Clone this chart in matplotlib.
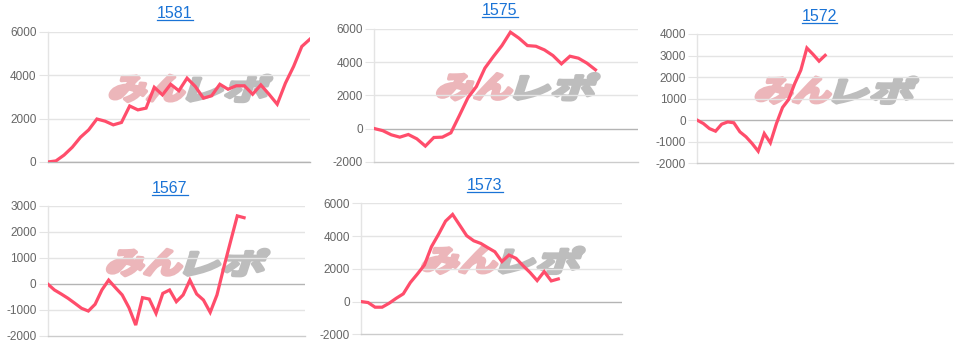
import matplotlib
matplotlib.use("Agg")
import matplotlib.pyplot as plt
from matplotlib.textpath import TextPath
from matplotlib.patches import PathPatch
from matplotlib.font_manager import FontProperties
from matplotlib.lines import Line2D
from matplotlib.transforms import Affine2D

plt.rcParams['font.family'] = ['Liberation Sans', 'DejaVu Sans']

# ---- data ----
titles = ["1581", "1575", "1572", "1567", "1573"]

s1581 = [0, 50, 320, 680, 1140, 1480, 1980, 1880, 1710, 1820, 2580, 2400, 2480,
         3440, 3090, 3580, 3280, 3860, 3480, 2940, 3050, 3580, 3350, 3510, 3510,
         3120, 3550, 3120, 2660, 3630, 4400, 5320, 5660]
s1575 = [0, -130, -380, -520, -360, -620, -1060, -540, -520, -260, 780, 1850,
         2530, 3640, 4340, 5000, 5810, 5450, 5000, 4960, 4740, 4400, 3900, 4360,
         4240, 3940, 3540]
s1572 = [0, -155, -390, -510, -185, -80, -120, -540, -770, -1080, -1440, -620,
         -1050, -155, 590, 960, 1700, 2320, 3350, 3060, 2740, 3010]
s1567 = [0, -230, -385, -550, -740, -935, -1040, -780, -230, 150, -140, -420,
         -910, -1580, -525, -580, -1130, -360, -230, -680, -420, 150, -385, -615,
         -1090, -420, 630, 1630, 2620, 2550]
s1573 = [0, -60, -345, -345, -100, 200, 470, 1160, 1680, 2230, 3350, 4100, 4910,
         5320, 4670, 4020, 3710, 3550, 3290, 3040, 2440, 2840, 2640, 2190, 1770,
         1280, 1830, 1260, 1380]
series = [s1581, s1575, s1572, s1567, s1573]

x_slots = [32, 31, 42, 38, 37]
ylims = [(0, 6000), (-2000, 6000), (-2000, 4000), (-2000, 3000), (-2000, 6000)]
ysteps = [2000, 2000, 1000, 1000, 2000]

# ---- layout (pixels) ----
W, H = 965, 345
# left, right, top, bottom in pixels
boxes = [(47.7, 310, 31.7, 162), (374.3, 638, 29, 161.7), (697.3, 953, 34, 163.3),
         (47.7, 305, 206, 336), (361, 621.7, 203.3, 334.3)]
title_pos = [(174.7, 17.5), (499.8, 15), (819.5, 21), (169.8, 193), (485, 190)]

LINE = '#ff4d6b'
GRID = '#e4e4e4'
ZERO = '#b4b4b4'
TITLE = '#1a73d6'

fig = plt.figure(figsize=(W / 100, H / 100), dpi=100)

fp = FontProperties(family='Noto Sans CJK JP', weight='bold')

def watermark(ax):
    bb = ax.get_position()
    ax_l, ax_b = bb.x0 * W, bb.y0 * H
    ax_w, ax_h = bb.width * W, bb.height * H
    cx = ax_l + 0.543 * ax_w
    cy = ax_b + 0.565 * ax_h
    tw, th = 156, 26
    parts = [("みん", '#ecb6ba', 0.0, 0.47), ("レポ", '#bdbdbd', 0.5, 1.0)]
    for txt, col, f0, f1 in parts:
        tp = TextPath((0, 0), txt, prop=fp, size=1)
        ext = tp.get_extents()
        w_target = (f1 - f0) * tw
        sx = w_target / ext.width
        sy = th / ext.height
        tr = (Affine2D().translate(-ext.x0, -ext.y0).scale(sx, sy)
              .skew_deg(18, 0).translate(cx - tw / 2 + f0 * tw - 4, cy - th / 2)
              .scale(1 / W, 1 / H) + fig.transFigure)
        patch = PathPatch(tp, facecolor=col, edgecolor=col, linewidth=2.6,
                          joinstyle='round', transform=tr, zorder=0.5)
        fig.add_artist(patch)

axes = []
for i, (l, r, t, b) in enumerate(boxes):
    ax = fig.add_axes([l / W, 1 - b / H, (r - l) / W, (b - t) / H])
    axes.append(ax)
    ax.set_facecolor('none')
    ys = series[i]
    ax.plot(range(len(ys)), ys, color=LINE, lw=2.3, solid_joinstyle='miter',
            zorder=3)
    ax.set_xlim(0, x_slots[i])
    lo, hi = ylims[i]
    ax.set_ylim(lo, hi)
    ticks = list(range(lo, hi + 1, ysteps[i]))
    ax.set_yticks(ticks)
    ax.set_yticklabels([str(v) for v in ticks])
    ax.set_xticks([])
    for v in ticks:
        if v == 0:
            ax.axhline(v, color=ZERO, lw=1, zorder=1)
        elif v != lo:
            ax.axhline(v, color=GRID, lw=1, zorder=1)
    for s in ['top', 'right']:
        ax.spines[s].set_visible(False)
    ax.spines['left'].set_color(GRID)
    ax.spines['left'].set_linewidth(1)
    ax.spines['bottom'].set_color(ZERO if lo == 0 else '#cccccc')
    ax.spines['bottom'].set_linewidth(1)
    ax.tick_params(axis='y', length=6.5, color=GRID, width=0.8, pad=1.5,
                   labelsize=8.5, labelcolor='#666666')
    ax.set_zorder(2)
    watermark(ax)

texts = []
for i, (x, y) in enumerate(title_pos):
    t = fig.text(x / W, 1 - y / H, titles[i], ha='center', va='baseline',
                 fontsize=11.5, color=TITLE)
    texts.append(t)

fig.canvas.draw()
r = fig.canvas.get_renderer()
for i, t in enumerate(texts):
    ext = t.get_window_extent(r)
    x, y = title_pos[i]
    yb = 1 - (y + 2.2) / H
    fig.add_artist(Line2D([ext.x0 / W, ext.x1 / W], [yb, yb], color=TITLE,
                          lw=0.9, transform=fig.transFigure))

fig.savefig("out.png", dpi=100)
